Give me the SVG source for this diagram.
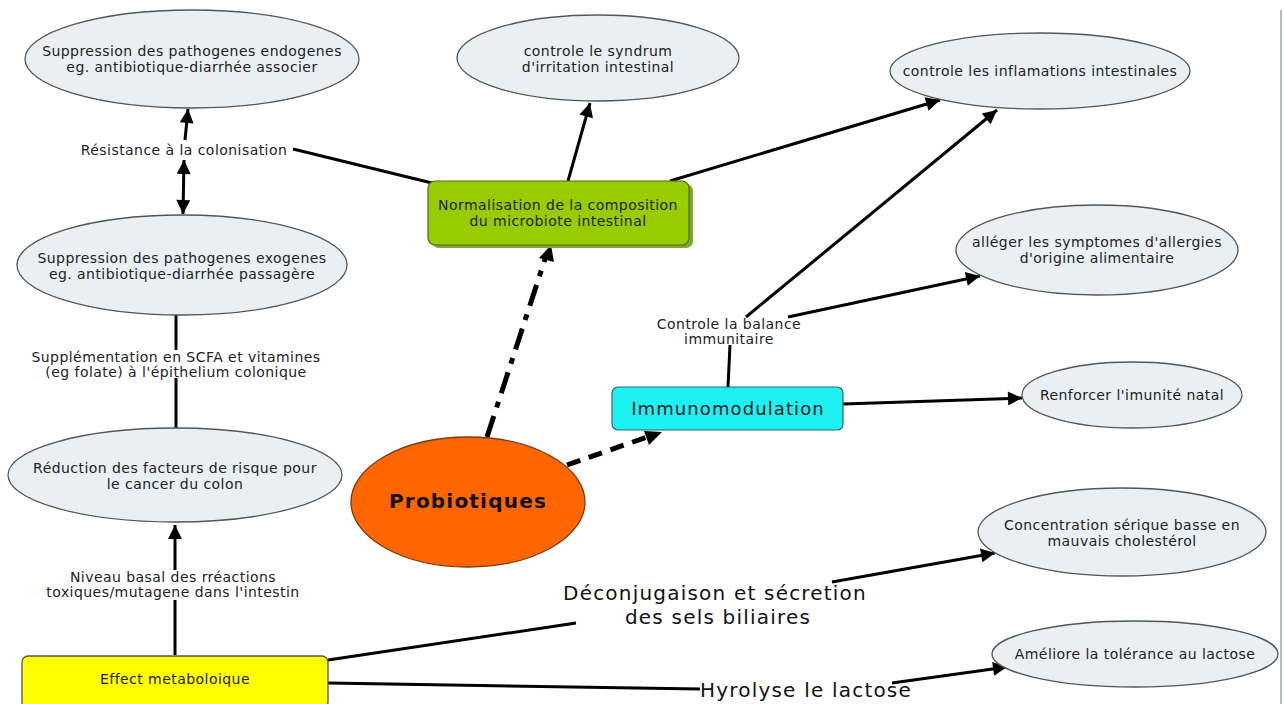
<svg xmlns="http://www.w3.org/2000/svg" width="1284" height="704" viewBox="0 0 1284 704">
<defs>
<style>
.el{fill:#e9eff3;stroke:#555;stroke-width:1.3}
.t{font-family:"DejaVu Sans",Verdana,sans-serif;font-size:14px;letter-spacing:0.45px;fill:#222;text-anchor:middle}
.big{font-family:"DejaVu Sans",Verdana,sans-serif;font-size:20px;letter-spacing:1.2px;fill:#111;text-anchor:middle}
.c{stroke:#000;stroke-width:3;fill:none}
</style>
<marker id="ah" viewBox="0 0 10 10" refX="10" refY="5" markerWidth="16" markerHeight="14" markerUnits="userSpaceOnUse" orient="auto-start-reverse">
<path d="M0,0 L10,5 L0,10 z" fill="#000"/>
</marker>
</defs>
<rect width="1284" height="704" fill="#fff"/>
<line x1="1281" y1="10" x2="1281" y2="704" stroke="#9aa8a8" stroke-width="1.5"/>

<g id="connectors">
<line class="c" x1="185" y1="140" x2="188" y2="109" marker-end="url(#ah)"/>
<line class="c" x1="184" y1="160" x2="183" y2="214" marker-start="url(#ah)" marker-end="url(#ah)"/>
<line class="c" x1="293" y1="149" x2="432" y2="183"/>
<line class="c" x1="568" y1="181" x2="590" y2="103" marker-end="url(#ah)"/>
<line class="c" x1="670" y1="181" x2="940" y2="100" marker-end="url(#ah)"/>
<line class="c" x1="746" y1="317" x2="997" y2="110" marker-end="url(#ah)"/>
<line class="c" x1="788" y1="317" x2="980" y2="276" marker-end="url(#ah)"/>
<line class="c" x1="730" y1="345" x2="728" y2="387"/>
<line class="c" x1="843" y1="404" x2="1022" y2="398" marker-end="url(#ah)"/>
<line stroke="#000" stroke-width="5" fill="none" stroke-dasharray="22 9 6 9" x1="487" y1="437" x2="546" y2="256"/>
<path d="M551,245 L554,262 L539,258 z" fill="#000"/>
<line stroke="#000" stroke-width="5" fill="none" stroke-dasharray="14 9" x1="567" y1="465" x2="650" y2="436"/>
<path d="M662,432 L649,445 L644,431 z" fill="#000"/>
<line class="c" x1="176" y1="315" x2="176" y2="350"/>
<line class="c" x1="176" y1="378" x2="176" y2="428"/>
<line class="c" x1="175" y1="655" x2="175" y2="600"/>
<line class="c" x1="175" y1="570" x2="175" y2="525" marker-end="url(#ah)"/>
<line class="c" x1="328" y1="660" x2="576" y2="623"/>
<line class="c" x1="832" y1="582" x2="995" y2="553" marker-end="url(#ah)"/>
<line class="c" x1="328" y1="683" x2="700" y2="689"/>
<line class="c" x1="892" y1="683" x2="1007" y2="667" marker-end="url(#ah)"/>
</g>

<g id="lbl-resistance"><text class="t" x="184" y="155">Résistance à la colonisation</text></g>
<g id="lbl-scfa">
<text class="t" x="176" y="362">Supplémentation en SCFA et vitamines</text>
<text class="t" x="176" y="377">(eg folate) à l'épithelium colonique</text>
</g>
<g id="lbl-niveau">
<text class="t" x="173" y="582">Niveau basal des rréactions</text>
<text class="t" x="173" y="597">toxiques/mutagene dans l'intestin</text>
</g>
<g id="lbl-balance">
<text class="t" x="729" y="329">Controle la balance</text>
<text class="t" x="729" y="344">immunitaire</text>
</g>
<g id="lbl-deconj">
<text class="big" x="715" y="600">Déconjugaison et sécretion</text>
<text class="big" x="718" y="624">des sels biliaires</text>
</g>
<g id="lbl-hyrolyse"><text class="big" x="806" y="697">Hyrolyse le lactose</text></g>

<g id="n-endogenes">
<ellipse class="el" cx="192" cy="59" rx="167" ry="49"/>
<text class="t" x="192" y="56">Suppression des pathogenes endogenes</text>
<text class="t" x="192" y="72">eg. antibiotique-diarrhée associer</text>
</g>
<g id="n-exogenes">
<ellipse class="el" cx="182" cy="265" rx="165" ry="50" stroke="#000" stroke-width="3.5"/>
<text class="t" x="182" y="263">Suppression des pathogenes exogenes</text>
<text class="t" x="182" y="279">eg. antibiotique-diarrhée passagère</text>
</g>
<g id="n-syndrum">
<ellipse class="el" cx="598" cy="58" rx="141" ry="43"/>
<text class="t" x="598" y="56">controle le syndrum</text>
<text class="t" x="598" y="72">d'irritation intestinal</text>
</g>
<g id="n-inflam">
<ellipse class="el" cx="1040" cy="71" rx="150" ry="38"/>
<text class="t" x="1040" y="76">controle les inflamations intestinales</text>
</g>
<g id="n-allergies">
<ellipse class="el" cx="1097" cy="250" rx="141" ry="45"/>
<text class="t" x="1097" y="247">alléger les symptomes d'allergies</text>
<text class="t" x="1097" y="263">d'origine alimentaire</text>
</g>
<g id="n-renforcer">
<ellipse class="el" cx="1132" cy="395" rx="110" ry="33"/>
<text class="t" x="1132" y="400">Renforcer l'imunité natal</text>
</g>
<g id="n-cholesterol">
<ellipse class="el" cx="1122" cy="532" rx="144" ry="44"/>
<text class="t" x="1122" y="530">Concentration sérique basse en</text>
<text class="t" x="1122" y="546">mauvais cholestérol</text>
</g>
<g id="n-lactose">
<ellipse class="el" cx="1135" cy="654" rx="143" ry="33"/>
<text class="t" x="1135" y="659">Améliore la tolérance au lactose</text>
</g>
<g id="n-reduction">
<ellipse class="el" cx="175" cy="475" rx="167" ry="47"/>
<text class="t" x="175" y="473">Réduction des facteurs de risque pour</text>
<text class="t" x="175" y="489">le cancer du colon</text>
</g>
<g id="n-normalisation">
<rect x="432" y="184" width="261" height="64" rx="7" fill="#7ea82a"/>
<rect x="428" y="181" width="261" height="64" rx="7" fill="#99cc00" stroke="#4a6a10" stroke-width="1.2"/>
<text class="t" x="558" y="210">Normalisation de la composition</text>
<text class="t" x="558" y="226">du microbiote intestinal</text>
</g>
<g id="n-immuno">
<rect x="612" y="387" width="231" height="43" rx="6" fill="#1ff0f2" stroke="#2a6a70" stroke-width="1.2"/>
<text class="t" x="728" y="415" style="font-size:18px;letter-spacing:1.1px">Immunomodulation</text>
</g>
<g id="n-probiotiques">
<ellipse cx="468" cy="502" rx="117" ry="65" fill="#ff6600" stroke="#7a3a10" stroke-width="1.3"/>
<text class="t" x="468" y="508" style="font-size:20px;letter-spacing:1.2px;font-weight:bold;fill:#111">Probiotiques</text>
</g>
<g id="n-effect">
<rect x="22" y="656" width="306" height="52" rx="6" fill="#ffff00" stroke="#555" stroke-width="1.3"/>
<text class="t" x="175" y="684">Effect metaboloique</text>
</g>
</svg>
